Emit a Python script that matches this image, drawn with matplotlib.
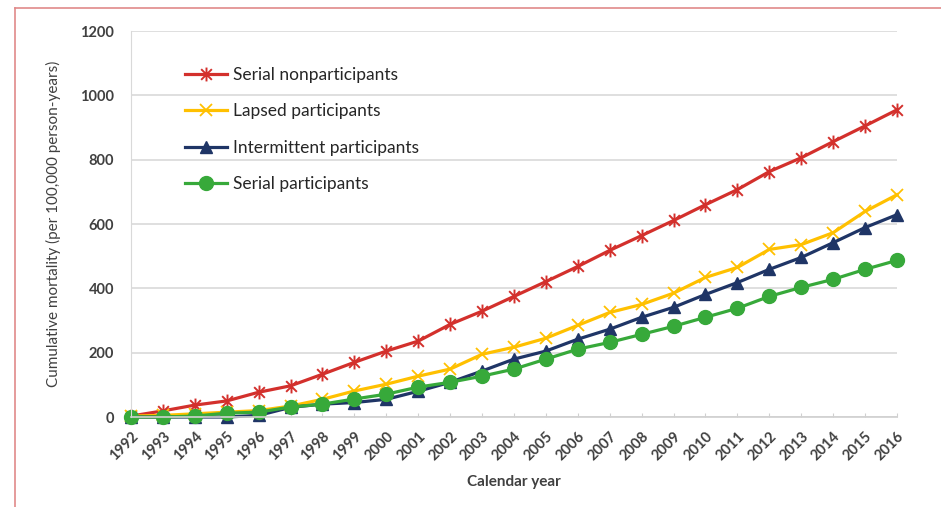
import matplotlib.pyplot as plt
from matplotlib.lines import Line2D
from matplotlib.path import Path

years = list(range(1992, 2017))

serial_nonparticipants = [3, 19, 37, 50, 77, 97, 133, 170, 205, 236, 288, 329, 375, 421,
                          468, 518, 564, 611, 660, 707, 763, 806, 856, 905, 955]
lapsed_participants = [3, 5, 10, 15, 20, 34, 55, 81, 102, 127, 149, 195, 217, 245,
                       285, 325, 350, 385, 434, 465, 521, 536, 573, 639, 691]
intermittent_participants = [0, 0, 0, 0, 5, 30, 40, 45, 55, 80, 108, 143, 180, 205,
                             242, 273, 310, 341, 381, 418, 459, 496, 542, 589, 629]
serial_participants = [0, 0, 3, 12, 15, 31, 40, 56, 71, 93, 108, 127, 149, 180,
                       211, 232, 257, 282, 310, 338, 375, 403, 428, 459, 487]

# x with a vertical bar, like the spreadsheet "star" marker
M, L = Path.MOVETO, Path.LINETO
star = Path([(-1, -1), (1, 1), (-1, 1), (1, -1), (0, -1.3), (0, 1.3)],
            [M, L, M, L, M, L])

series = [
    ("Serial nonparticipants", serial_nonparticipants, "#d3302c", dict(marker=star, markersize=10, markeredgewidth=1.4)),
    ("Lapsed participants", lapsed_participants, "#ffc000", dict(marker="x", markersize=8, markeredgewidth=1.3)),
    ("Intermittent participants", intermittent_participants, "#1f3566", dict(marker="^", markersize=9)),
    ("Serial participants", serial_participants, "#37a93a", dict(marker="o", markersize=10)),
]

plt.rcParams["font.family"] = ["Lato", "DejaVu Sans"]

fig = plt.figure(figsize=(9.41, 5.07), dpi=100)
ax = fig.add_axes([0.1392, 0.1775, 0.814, 0.7613])

for name, vals, color, mk in series:
    ax.plot(years, vals, color=color, linewidth=2.3, label=name,
            markeredgecolor=color, markerfacecolor=color, clip_on=False, **mk)

ax.set_xlim(1992, 2016)
ax.set_ylim(0, 1200)
ax.set_yticks(range(0, 1201, 200))
ax.set_xticks(years)
ax.set_xticklabels([str(y) for y in years], rotation=45, ha="right", va="top",
                   rotation_mode="anchor")

ax.grid(axis="y", color="#d9d9d9", linewidth=1.2)
ax.set_axisbelow(True)
for side in ["top", "right"]:
    ax.spines[side].set_visible(False)
ax.spines["left"].set_color("#d9d9d9")
ax.spines["bottom"].set_color("#d0d0d0")
ax.spines["bottom"].set_linewidth(1.2)
ax.tick_params(axis="y", length=0, pad=12, labelsize=10.5, labelcolor="#404040")
ax.tick_params(axis="x", direction="in", length=3, color="#d0d0d0", pad=9,
               labelsize=10.5, labelcolor="#404040")
for lbl in ax.get_xticklabels() + ax.get_yticklabels():
    lbl.set_fontweight("bold")

ax.set_xlabel("Calendar year", fontsize=11, color="#404040", fontweight="bold", labelpad=8)
ax.set_ylabel("Cumulative mortality (per 100,000 person-years)", fontsize=11,
              color="#404040", labelpad=14)

ax.legend(loc="upper left", bbox_to_anchor=(0.05, 0.948), frameon=False,
          fontsize=12.5, handlelength=2.4, handletextpad=0.35, labelspacing=1.18,
          labelcolor="#262626")

# thin frame lines along the top and left of the figure
fig.add_artist(Line2D([15 / 941, 1], [1 - 8 / 507, 1 - 8 / 507], color="#e08a8a", linewidth=1.2))
fig.add_artist(Line2D([15 / 941, 15 / 941], [0, 1 - 8 / 507], color="#e08a8a", linewidth=1.2))

fig.savefig("out.png", dpi=100)
